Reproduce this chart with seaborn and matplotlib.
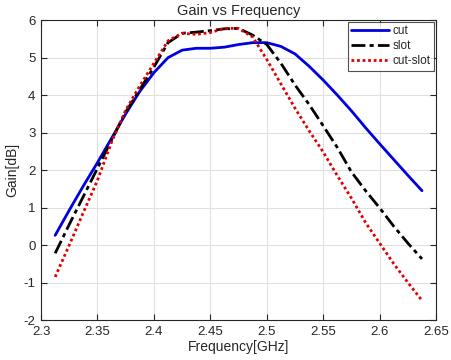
import seaborn as sns
import matplotlib.pyplot as plt
import pandas as pd

freq = [2.3125, 2.325, 2.3375, 2.35, 2.3625, 2.375, 2.3875, 2.4, 2.4125,
        2.425, 2.4375, 2.45, 2.4625, 2.475, 2.4875, 2.5, 2.5125, 2.525,
        2.5375, 2.55, 2.5625, 2.575, 2.5875, 2.6, 2.6125, 2.625, 2.6375]

gain_cut = [0.26, 0.93, 1.58, 2.2, 2.85, 3.5, 4.1, 4.6, 5.0,
            5.2, 5.25, 5.25, 5.28, 5.35, 5.4, 5.4, 5.3, 5.1,
            4.77, 4.4, 4.0, 3.58, 3.13, 2.7, 2.28, 1.86, 1.45]

gain_slot = [-0.22, 0.55, 1.3, 2.05, 2.8, 3.55, 4.15, 4.75, 5.4,
             5.65, 5.68, 5.72, 5.77, 5.78, 5.6, 5.35, 4.85, 4.27,
             3.75, 3.18, 2.6, 1.95, 1.45, 0.99, 0.5, 0.05, -0.37]

gain_cutslot = [-0.85, 0.0, 0.87, 1.73, 2.75, 3.6, 4.25, 4.85, 5.45,
                5.65, 5.62, 5.67, 5.78, 5.78, 5.55, 4.95, 4.3, 3.65,
                3.05, 2.48, 1.85, 1.25, 0.6, 0.05, -0.5, -1.0, -1.48]

series = ["cut", "slot", "cut-slot"]
colors = ["#0000e0", "black", "#e00000"]
dash_styles = [(None, None), (5, 1.5, 1.5, 1.5), (1, 1)]

df = pd.DataFrame({"freq": freq, "cut": gain_cut, "slot": gain_slot,
                   "cut-slot": gain_cutslot})

sns.set_style("whitegrid")
plt.rcParams["font.family"] = ["Liberation Sans", "DejaVu Sans"]
plt.rcParams["axes.unicode_minus"] = False

fig = plt.figure(figsize=(4.51, 3.6), dpi=100)
ax = fig.add_axes([0.091, 0.111, 0.876, 0.833])

for name, c, d in zip(series, colors, dash_styles):
    ln = sns.lineplot(data=df, x="freq", y=name, ax=ax, color=c,
                      linewidth=2, label=name)
    if d[0] is not None:
        ax.lines[-1].set_dashes(d)

ax.set_xlim(2.3, 2.65)
ax.set_ylim(-2, 6)
ax.set_xticks([2.3, 2.35, 2.4, 2.45, 2.5, 2.55, 2.6, 2.65])
ax.set_xticklabels(["2.3", "2.35", "2.4", "2.45", "2.5", "2.55", "2.6", "2.65"])
ax.set_yticks(range(-2, 7))
ax.grid(True, color="#e0e0e0", linewidth=0.8)
for s in ax.spines.values():
    s.set_color("#262626")
    s.set_linewidth(0.8)
ax.tick_params(direction="in", length=4, colors="#262626", labelsize=9.5,
               top=True, right=True, bottom=True, left=True, pad=4)
ax.set_xlabel("Frequency[GHz]", fontsize=10, labelpad=2)
ax.set_ylabel("Gain[dB]", fontsize=10, labelpad=3)
ax.set_title("Gain vs Frequency", fontsize=10.5, pad=4)

leg = ax.legend(loc="upper right", fontsize=8.5, frameon=True, fancybox=False,
                borderpad=0.3, labelspacing=0.25, handlelength=3.2,
                handletextpad=0.3, borderaxespad=0.15)
leg.get_frame().set_edgecolor("#262626")
leg.get_frame().set_linewidth(0.8)
leg_lines = leg.get_lines()
leg_lines[1].set_dashes(dash_styles[1])
leg_lines[2].set_dashes(dash_styles[2])

fig.savefig("out.png", dpi=100)
